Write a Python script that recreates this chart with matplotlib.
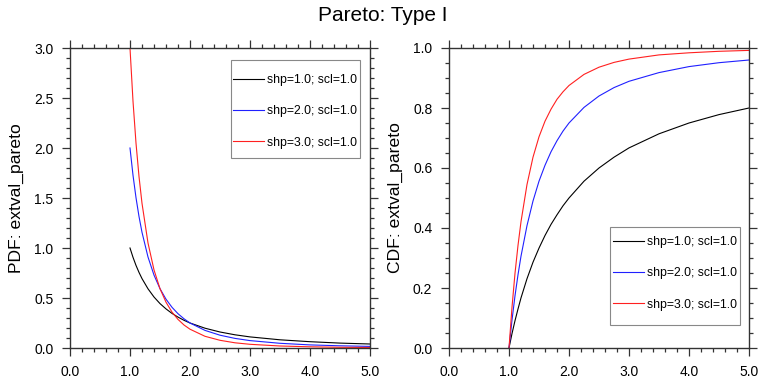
import matplotlib
matplotlib.use("Agg")
import matplotlib.pyplot as plt
from matplotlib.patches import Rectangle
from matplotlib.ticker import MultipleLocator, FormatStrFormatter

# x positions
x = [1.0, 1.05, 1.1, 1.15, 1.2, 1.3, 1.4, 1.5, 1.6, 1.7, 1.8, 1.9, 2.0,
     2.25, 2.5, 2.75, 3.0, 3.5, 4.0, 4.5, 5.0]

# PDF curves
pdf_1 = [1.000, 0.907, 0.826, 0.756, 0.694, 0.592, 0.510, 0.444, 0.391, 0.346, 0.309,
         0.277, 0.250, 0.198, 0.160, 0.132, 0.111, 0.082, 0.063, 0.049, 0.040]
pdf_2 = [2.000, 1.728, 1.503, 1.315, 1.157, 0.910, 0.729, 0.593, 0.488, 0.407, 0.343,
         0.292, 0.250, 0.176, 0.128, 0.096, 0.074, 0.047, 0.031, 0.022, 0.016]
pdf_3 = [3.000, 2.468, 2.049, 1.715, 1.447, 1.050, 0.781, 0.593, 0.458, 0.359, 0.286,
         0.230, 0.188, 0.117, 0.077, 0.052, 0.037, 0.020, 0.012, 0.007, 0.005]

# CDF curves
cdf_1 = [0.0, 0.048, 0.091, 0.130, 0.167, 0.231, 0.286, 0.333, 0.375, 0.412, 0.444,
         0.474, 0.500, 0.556, 0.600, 0.636, 0.667, 0.714, 0.750, 0.778, 0.800]
cdf_2 = [0.0, 0.093, 0.174, 0.244, 0.306, 0.408, 0.490, 0.556, 0.609, 0.654, 0.691,
         0.723, 0.750, 0.802, 0.840, 0.868, 0.889, 0.918, 0.938, 0.951, 0.960]
cdf_3 = [0.0, 0.136, 0.249, 0.342, 0.421, 0.545, 0.636, 0.704, 0.756, 0.796, 0.829,
         0.854, 0.875, 0.912, 0.936, 0.952, 0.963, 0.977, 0.984, 0.989, 0.992]

labels = ["shp=1.0; scl=1.0", "shp=2.0; scl=1.0", "shp=3.0; scl=1.0"]
colors = ["black", "#2020ff", "#ff2020"]

plt.rcParams['font.family'] = ['Liberation Sans', 'DejaVu Sans']

fig = plt.figure(figsize=(7.66, 3.84), dpi=100)
ax1 = fig.add_axes([70 / 766, 36 / 384, 300 / 766, 300 / 384])
ax2 = fig.add_axes([449 / 766, 36 / 384, 300 / 766, 300 / 384])


def style(ax, ymax, ymaj, ymin, ylabel):
    ax.set_xlim(0, 5)
    ax.set_ylim(0, ymax)
    ax.xaxis.set_major_locator(MultipleLocator(1.0))
    ax.xaxis.set_minor_locator(MultipleLocator(0.2))
    ax.yaxis.set_major_locator(MultipleLocator(ymaj))
    ax.yaxis.set_minor_locator(MultipleLocator(ymin))
    ax.xaxis.set_major_formatter(FormatStrFormatter('%.1f'))
    ax.yaxis.set_major_formatter(FormatStrFormatter('%.1f'))
    ax.tick_params(which='both', direction='out', top=True, right=True,
                   color='#333333', width=0.9)
    ax.tick_params(which='major', length=6, labelsize=10, pad=6)
    ax.tick_params(which='minor', length=3)
    for s in ax.spines.values():
        s.set_color('#333333')
        s.set_linewidth(1.0)
    ax.set_ylabel(ylabel, fontsize=12.6, labelpad=7)


for ys, c, lab in zip([pdf_1, pdf_2, pdf_3], colors, labels):
    ax1.plot(x, ys, color=c, lw=0.8, label=lab)
for ys, c, lab in zip([cdf_1, cdf_2, cdf_3], colors, labels):
    ax2.plot(x, ys, color=c, lw=0.8, label=lab)

style(ax1, 3.0, 0.5, 0.1, "PDF: extval_pareto")
style(ax2, 1.0, 0.2, 0.05, "CDF: extval_pareto")

# legend box: frame drawn separately so the padding can be taller than wide
for ax, anchor, box in [(ax1, (0.958, 0.913), (0.537, 0.633, 0.430, 0.327)),
                        (ax2, (0.961, 0.373), (0.537, 0.077, 0.433, 0.327))]:
    ax.add_patch(Rectangle(box[:2], box[2], box[3], transform=ax.transAxes,
                           facecolor='white', edgecolor='#888888', lw=0.8, zorder=4))
    leg = ax.legend(loc='upper right', bbox_to_anchor=anchor, borderaxespad=0,
                    fontsize=8.8, handlelength=2.55, labelspacing=1.58,
                    borderpad=0, handletextpad=0.25, frameon=False)
    leg.set_zorder(5)

fig.suptitle("Pareto: Type I", fontsize=15, y=0.985)
fig.savefig("out.png", dpi=100)
